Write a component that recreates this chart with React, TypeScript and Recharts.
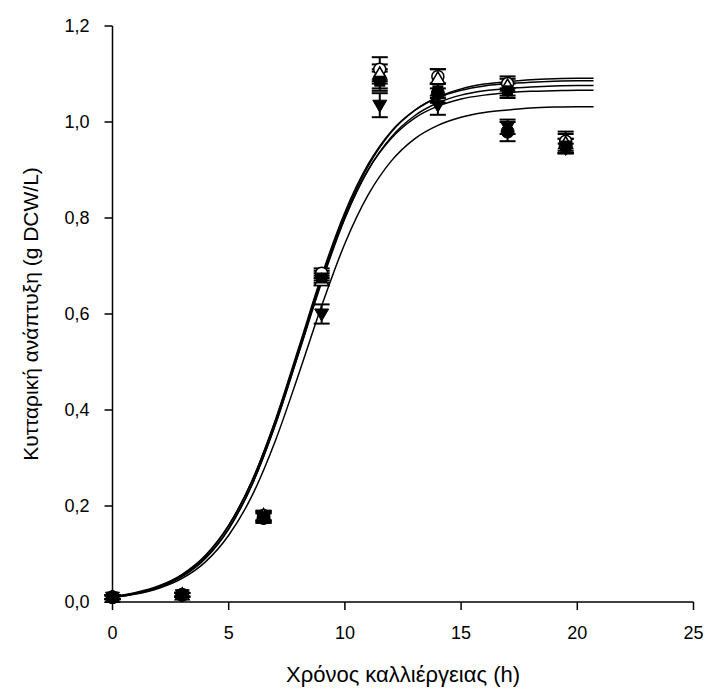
import { ComposedChart, Line, Scatter, ErrorBar, XAxis, YAxis, Label } from "recharts";

// sampling times (h)
const TIMES = [0, 3, 6.5, 9, 11.5, 14, 17, 19.5];

// measured biomass (g DCW/L) per culture, with std errors
const FILLED_CIRCLE = [0.01, 0.015, 0.175, 0.68, 1.09, 1.06, 0.98, 0.95];
const FILLED_CIRCLE_ERR = [0.004, 0.004, 0.01, 0.01, 0.02, 0.02, 0.02, 0.015];
const OPEN_CIRCLE = [0.01, 0.015, 0.18, 0.685, 1.11, 1.095, 1.08, 0.96];
const OPEN_CIRCLE_ERR = [0.004, 0.004, 0.01, 0.01, 0.025, 0.015, 0.01, 0.02];
const TRI_DOWN = [0.01, 0.015, 0.175, 0.6, 1.035, 1.035, 0.99, 0.945];
const TRI_DOWN_ERR = [0.004, 0.004, 0.01, 0.02, 0.025, 0.02, 0.015, 0.01];
const TRI_UP = [0.01, 0.015, 0.18, 0.67, 1.1, 1.09, 1.075, 0.955];
const TRI_UP_ERR = [0.004, 0.004, 0.01, 0.01, 0.02, 0.02, 0.02, 0.02];
const SQUARE = [0.01, 0.015, 0.178, 0.675, 1.085, 1.065, 1.065, 0.95];
const SQUARE_ERR = [0.004, 0.004, 0.01, 0.01, 0.02, 0.015, 0.015, 0.015];

// fitted growth curves
const FIT_T = [0, 1, 2, 3, 4, 5, 6, 7, 8, 9, 10, 11, 12, 13, 14, 15, 16, 17, 18, 19, 20, 20.7];
const FIT_1 = [0.0113, 0.0196, 0.0338, 0.0578, 0.0973, 0.16, 0.252, 0.376, 0.523, 0.674, 0.806, 0.908, 0.979, 1.024, 1.052, 1.069, 1.079, 1.084, 1.088, 1.09, 1.091, 1.091];
const FIT_2 = [0.0106, 0.0187, 0.0325, 0.0563, 0.0958, 0.159, 0.252, 0.378, 0.528, 0.68, 0.812, 0.912, 0.981, 1.024, 1.051, 1.066, 1.075, 1.08, 1.083, 1.085, 1.086, 1.086];
const FIT_3 = [0.0102, 0.018, 0.0314, 0.0543, 0.0924, 0.153, 0.244, 0.368, 0.516, 0.666, 0.799, 0.9, 0.969, 1.013, 1.04, 1.056, 1.065, 1.07, 1.073, 1.075, 1.076, 1.076];
const FIT_4 = [0.0096, 0.0171, 0.0301, 0.0527, 0.0906, 0.152, 0.244, 0.369, 0.518, 0.67, 0.801, 0.9, 0.966, 1.008, 1.033, 1.048, 1.056, 1.061, 1.064, 1.065, 1.066, 1.066];
const FIT_5 = [0.0094, 0.0165, 0.0286, 0.0492, 0.0836, 0.139, 0.221, 0.335, 0.473, 0.617, 0.747, 0.848, 0.919, 0.965, 0.993, 1.01, 1.02, 1.025, 1.029, 1.031, 1.032, 1.032];

const X_TICKS = [0, 5, 10, 15, 20, 25];
const Y_TICKS = [0, 0.2, 0.4, 0.6, 0.8, 1.0, 1.2];

const FONT = "Liberation Sans, Arial, sans-serif";

const points = (ys: number[], errs: number[]) => TIMES.map((t, i) => ({ t, y: ys[i], e: errs[i] }));
const curve = (ys: number[]) => FIT_T.map((t, i) => ({ t, y: ys[i] }));

type Kind = "fcircle" | "ocircle" | "tdown" | "tup" | "square";

const marker = (kind: Kind) => (props: any) => {
  const { cx, cy } = props;
  if (cx == null || cy == null) return <g />;
  const r = 6.5;
  switch (kind) {
    case "fcircle":
      return <circle cx={cx} cy={cy} r={r} fill="#000" stroke="#000" strokeWidth={1} />;
    case "ocircle":
      return <circle cx={cx} cy={cy} r={r - 0.5} fill="#fff" stroke="#000" strokeWidth={1.5} />;
    case "tdown":
      return <path d={`M${cx - 7},${cy - 5} L${cx + 7},${cy - 5} L${cx},${cy + 7} Z`} fill="#000" stroke="#000" />;
    case "tup":
      return <path d={`M${cx - 7},${cy + 5} L${cx + 7},${cy + 5} L${cx},${cy - 7} Z`} fill="#fff" stroke="#000" strokeWidth={1.5} />;
    default:
      return <rect x={cx - 5.5} y={cy - 5.5} width={11} height={11} fill="#000" />;
  }
};

const SERIES: { kind: Kind; ys: number[]; errs: number[] }[] = [
  { kind: "fcircle", ys: FILLED_CIRCLE, errs: FILLED_CIRCLE_ERR },
  { kind: "ocircle", ys: OPEN_CIRCLE, errs: OPEN_CIRCLE_ERR },
  { kind: "tdown", ys: TRI_DOWN, errs: TRI_DOWN_ERR },
  { kind: "tup", ys: TRI_UP, errs: TRI_UP_ERR },
  { kind: "square", ys: SQUARE, errs: SQUARE_ERR },
];

const FITS = [FIT_1, FIT_2, FIT_3, FIT_4, FIT_5];

export default function App() {
  return (
    <div style={{ position: "absolute", left: 0, top: 0, background: "#fff" }}>
      <ComposedChart width={709} height={698} margin={{ top: 26, right: 15.5, bottom: 36, left: 12.5 }}>
        <XAxis
          type="number"
          dataKey="t"
          domain={[0, 25]}
          ticks={X_TICKS}
          allowDuplicatedCategory={false}
          height={60}
          stroke="#000"
          strokeWidth={1.5}
          tickSize={8}
          tickMargin={16}
          tick={{ fill: "#000", fontSize: 18, fontFamily: FONT }}
        >
          <Label value="Χρόνος καλλιέργειας (h)" position="insideBottom" offset={-20} style={{ fill: "#000", fontSize: 22, fontFamily: FONT }} />
        </XAxis>
        <YAxis
          type="number"
          dataKey="y"
          domain={[0, 1.2]}
          ticks={Y_TICKS}
          width={100}
          stroke="#000"
          strokeWidth={1.5}
          tickSize={8}
          tickMargin={15}
          tickFormatter={(v: number) => v.toFixed(1).replace(".", ",")}
          tick={{ fill: "#000", fontSize: 18, fontFamily: FONT }}
        >
          <Label value="Κυτταρική ανάπτυξη (g DCW/L)" angle={-90} position="insideLeft" offset={18} style={{ fill: "#000", fontSize: 21, fontFamily: FONT, textAnchor: "middle" }} />
        </YAxis>
        {FITS.map((ys, i) => (
          <Line key={`fit${i}`} data={curve(ys)} dataKey="y" type="monotone" stroke="#000" strokeWidth={1.5} dot={false} activeDot={false} isAnimationActive={false} />
        ))}
        {SERIES.map((s) => (
          <Scatter key={s.kind} data={points(s.ys, s.errs)} dataKey="y" shape={marker(s.kind)} isAnimationActive={false}>
            <ErrorBar dataKey="e" direction="y" width={8} stroke="#000" strokeWidth={2} />
          </Scatter>
        ))}
      </ComposedChart>
    </div>
  );
}
